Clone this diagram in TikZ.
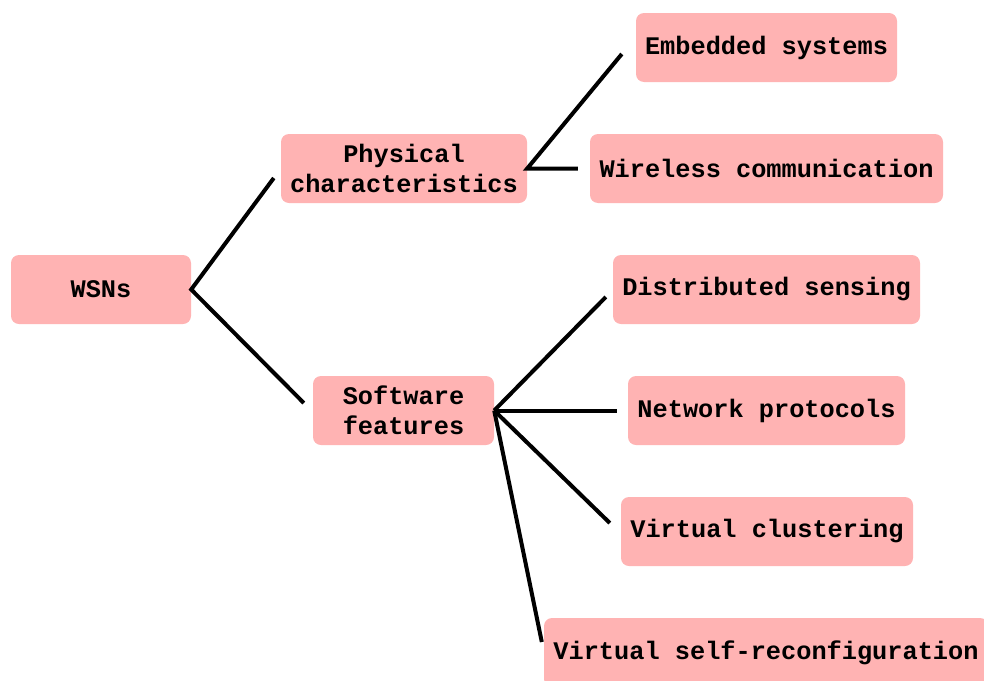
\documentclass[tikz,border=0pt]{standalone}
\usepackage{fontspec}
\setmonofont{Liberation Mono}
\usetikzlibrary{calc}
\definecolor{boxpink}{HTML}{FFB3B3}
\tikzset{
  box/.style={fill=boxpink, rounded corners=8pt, inner sep=0pt, align=center,
    font=\ttfamily\bfseries\fontsize{25.3}{30}\selectfont},
  link/.style={line width=4pt, black}
}
\begin{document}
\begin{tikzpicture}[x=1pt, y=-1pt]
\useasboundingbox (0,0) rectangle (984,680);

% root and second level
\node[box, minimum width=180pt, minimum height=69pt] (wsn) at (101,289.5) {WSNs};
\node[box, minimum width=246pt, minimum height=69pt] (phys) at (404,168.5) {Physical\\characteristics};
\node[box, minimum width=181pt, minimum height=69pt] (soft) at (403.5,410.5) {Software\\features};

% leaves of the physical branch
\node[box, minimum width=261pt, minimum height=69pt] (emb) at (766.5,47.5) {Embedded systems};
\node[box, minimum width=353pt, minimum height=69pt] (wire) at (766.5,168.5) {Wireless communication};

% leaves of the software branch
\node[box, minimum width=307pt, minimum height=69pt] (dist) at (766.5,289.5) {Distributed sensing};
\node[box, minimum width=277pt, minimum height=69pt] (net) at (766.5,410.5) {Network protocols};
\node[box, minimum width=292pt, minimum height=69pt] (clus) at (767,531.5) {Virtual clustering};
\node[box, minimum width=444pt, minimum height=69pt] (reconf) at (766,652.5) {Virtual self-reconfiguration};

% connectors
\draw[link] ($(phys.west)+(-7,9.5)$) -- (wsn.east) -- ($(soft.west)+(-9,-7.5)$);
\draw[link] ($(emb.west)+(-14,6.5)$) -- (phys.east) -- ($(wire.west)+(-12,0)$);
\draw[link] (soft.east) -- ($(dist.west)+(-7,7.5)$);
\draw[link] (soft.east) -- ($(net.west)+(-11,0)$);
\draw[link] (soft.east) -- ($(clus.west)+(-11,-8.5)$);
\draw[link] (soft.east) -- ($(reconf.west)+(-2,-10.5)$);
\end{tikzpicture}
\end{document}
